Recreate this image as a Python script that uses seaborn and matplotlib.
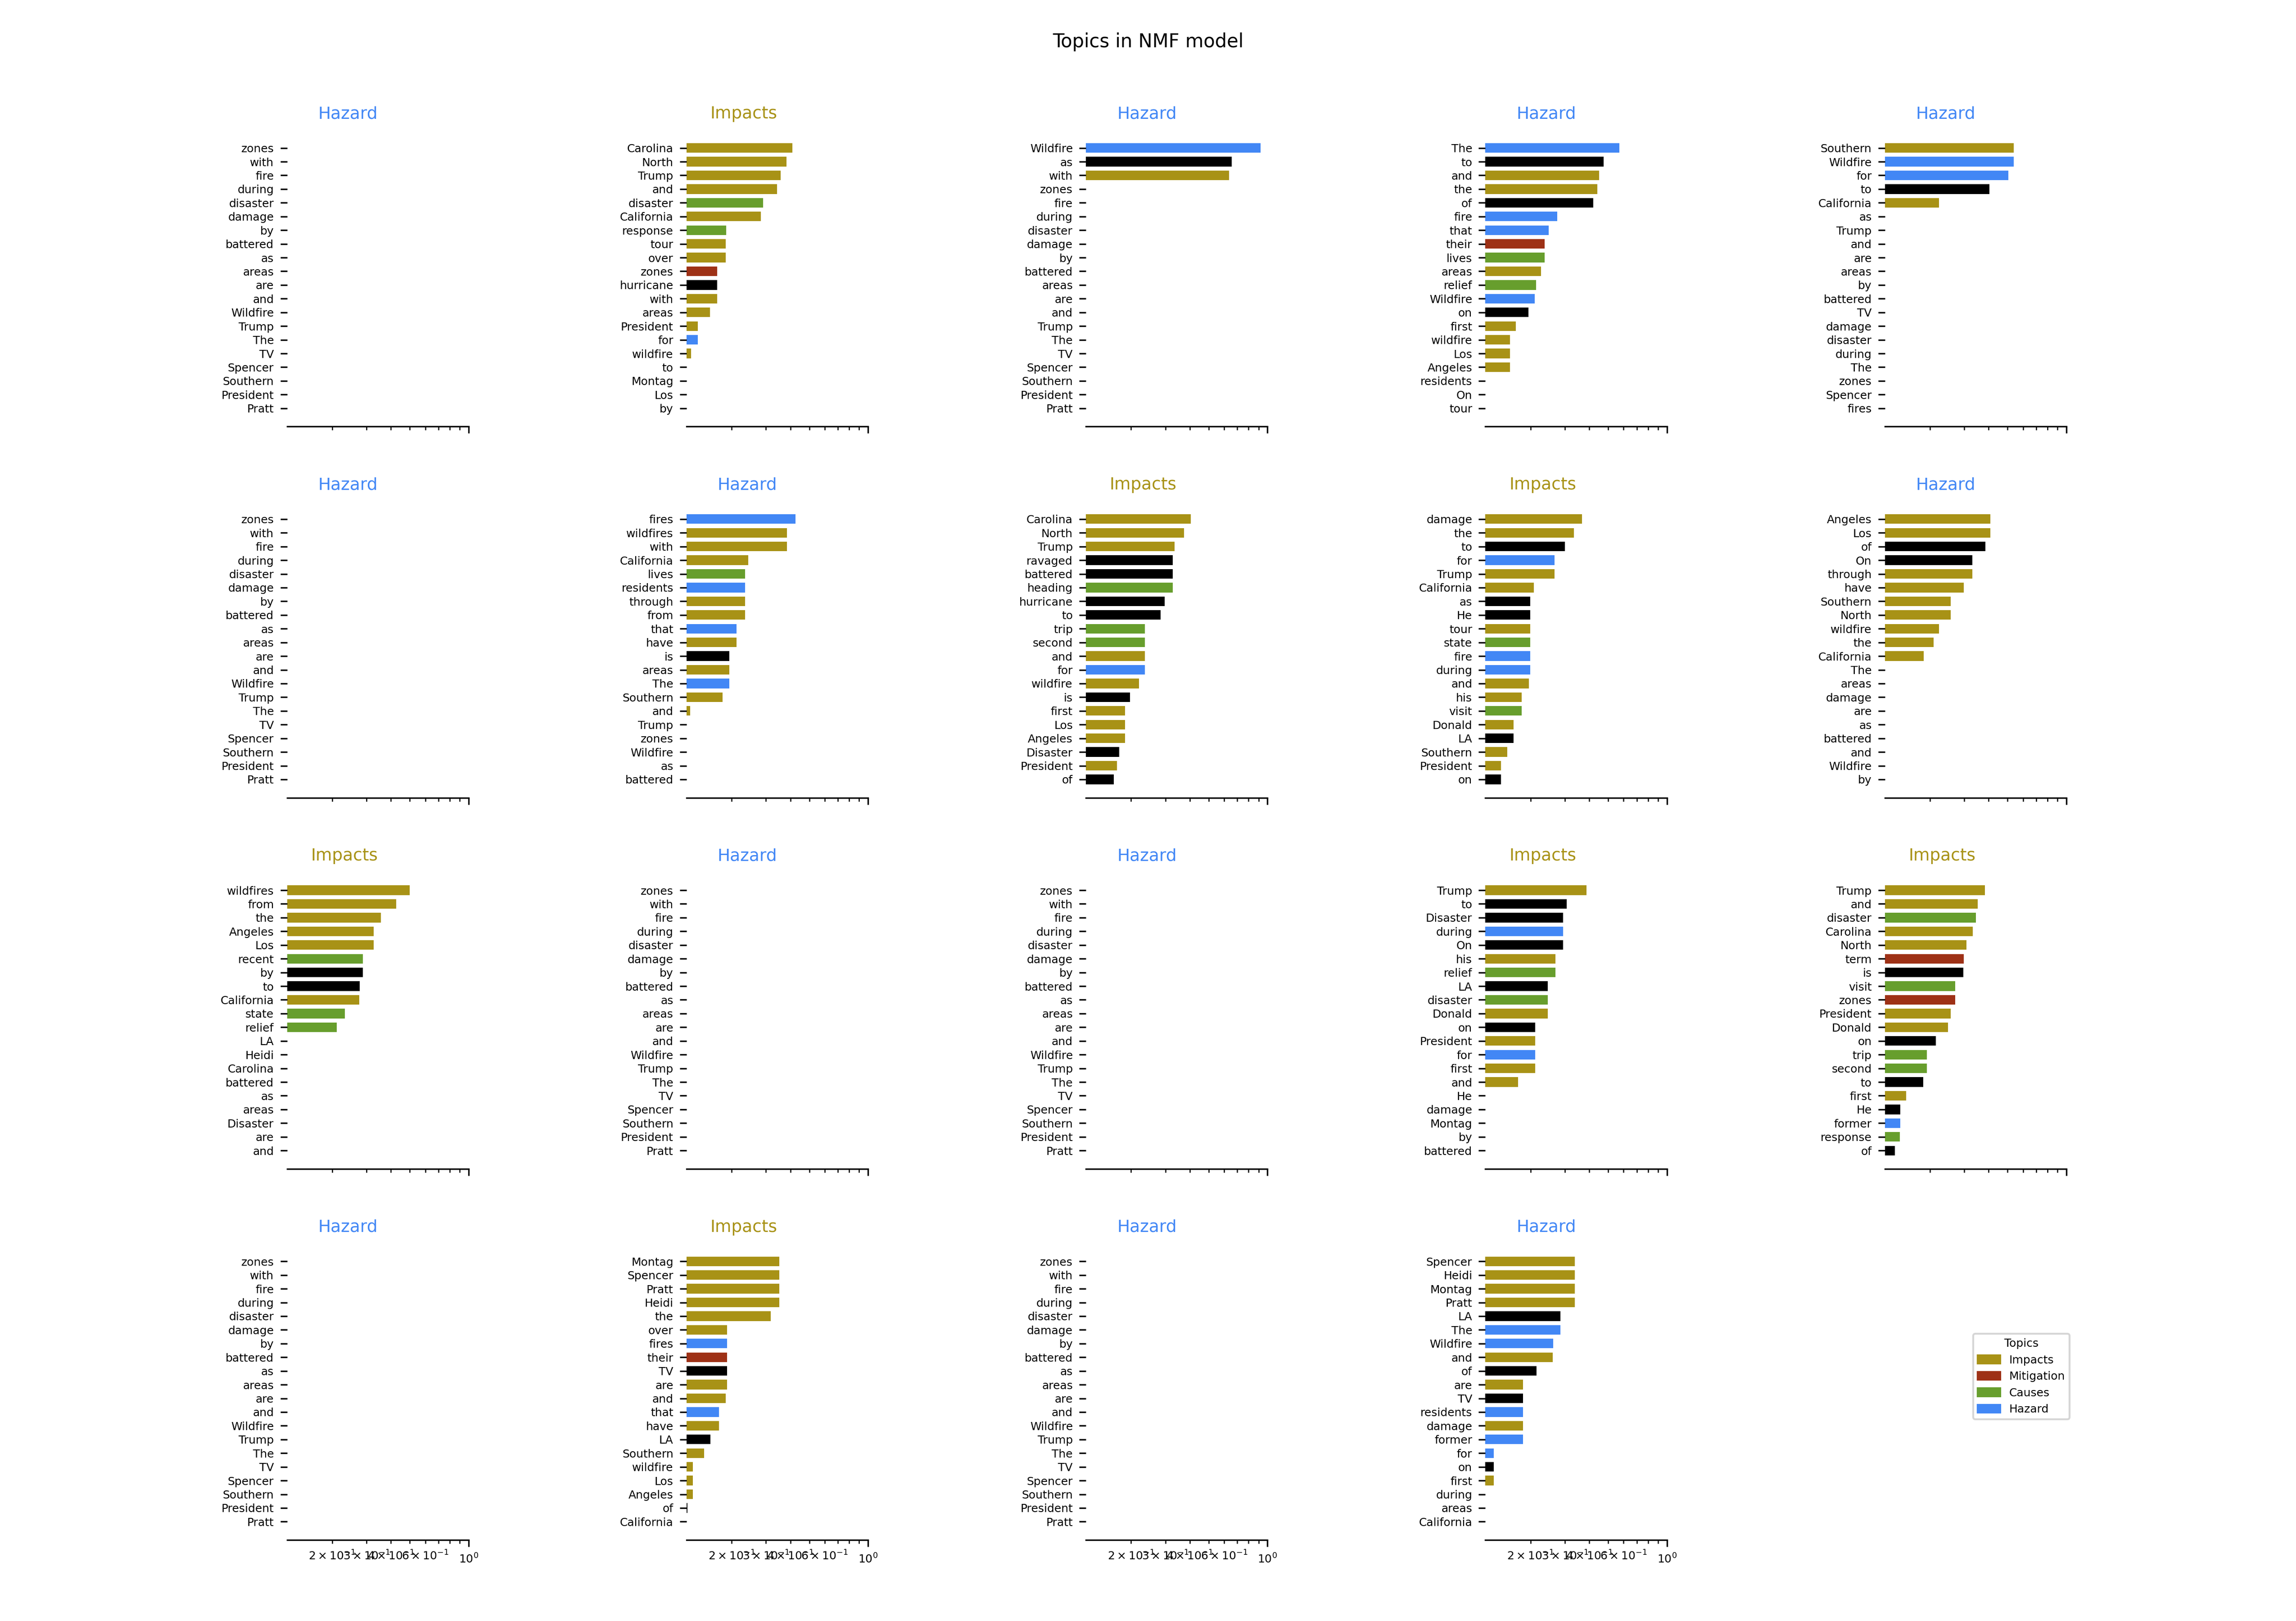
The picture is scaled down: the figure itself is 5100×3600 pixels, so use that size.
import matplotlib
matplotlib.use("Agg")
import matplotlib.pyplot as plt
from matplotlib.patches import Patch
import seaborn as sns

# ============================
#  data
# ============================

# I = Impacts, M = Mitigation, C = Causes, H = Hazard, O = no topic (black)
topic_colors = {"I": "#a89216", "M": "#9e3116", "C": "#679e2d", "H": "#4287f5", "O": "#000000"}
topic_names = {"I": "Impacts", "M": "Mitigation", "C": "Causes", "H": "Hazard"}

titles = ["Hazard", "Impacts", "Hazard", "Hazard", "Hazard",
          "Hazard", "Hazard", "Impacts", "Impacts", "Hazard",
          "Impacts", "Hazard", "Hazard", "Impacts", "Impacts",
          "Hazard", "Impacts", "Hazard", "Hazard"]

# topics with all weights at zero
empty_words = ["zones", "with", "fire", "during", "disaster", "damage", "by", "battered", "as", "areas",
               "are", "and", "Wildfire", "Trump", "The", "TV", "Spencer", "Southern", "President", "Pratt"]
empty_weights = [0, 0, 0, 0, 0, 0, 0, 0, 0, 0, 0, 0, 0, 0, 0, 0, 0, 0, 0, 0]
empty_cats = "OOOOOOOOOOOOOOOOOOOO"

t02_words = ["Carolina", "North", "Trump", "and", "disaster", "California", "response", "tour", "over", "zones",
             "hurricane", "with", "areas", "President", "for", "wildfire", "to", "Montag", "Los", "by"]
t02_weights = [0.409, 0.383, 0.356, 0.342, 0.290, 0.282, 0.188, 0.187, 0.187, 0.169,
               0.169, 0.169, 0.155, 0.134, 0.134, 0.124, 0, 0, 0, 0]
t02_cats = "IIIICICIIMOIIIHIOOOO"

t03_words = ["Wildfire", "as", "with", "zones", "fire", "during", "disaster", "damage", "by", "battered",
             "areas", "are", "and", "Trump", "The", "TV", "Spencer", "Southern", "President", "Pratt"]
t03_weights = [0.920, 0.655, 0.636, 0, 0, 0, 0, 0, 0, 0, 0, 0, 0, 0, 0, 0, 0, 0, 0, 0]
t03_cats = "HOIOOOOOOOOOOOOOOOOO"

t04_words = ["The", "to", "and", "the", "of", "fire", "that", "their", "lives", "areas",
             "relief", "Wildfire", "on", "first", "wildfire", "Los", "Angeles", "residents", "On", "tour"]
t04_weights = [0.571, 0.475, 0.450, 0.439, 0.419, 0.274, 0.248, 0.236, 0.236, 0.227,
               0.214, 0.210, 0.195, 0.168, 0.157, 0.157, 0.157, 0, 0, 0]
t04_cats = "HOIIOHHMCICHOIIIIOOO"

t05_words = ["Southern", "Wildfire", "for", "to", "California", "as", "Trump", "and", "are", "areas",
             "by", "battered", "TV", "damage", "disaster", "during", "The", "zones", "Spencer", "fires"]
t05_weights = [0.538, 0.538, 0.504, 0.404, 0.223, 0, 0, 0, 0, 0, 0, 0, 0, 0, 0, 0, 0, 0, 0, 0]
t05_cats = "IHHOIOOOOOOOOOOOOOOO"

t07_words = ["fires", "wildfires", "with", "California", "lives", "residents", "through", "from", "that", "have",
             "is", "areas", "The", "Southern", "and", "Trump", "zones", "Wildfire", "as", "battered"]
t07_weights = [0.425, 0.385, 0.385, 0.244, 0.234, 0.234, 0.234, 0.234, 0.212, 0.212,
               0.195, 0.195, 0.195, 0.180, 0.1225, 0, 0, 0, 0, 0]
t07_cats = "HIIICHIIHIOIHIIOOOOO"

t08_words = ["Carolina", "North", "Trump", "ravaged", "battered", "heading", "hurricane", "to", "trip", "second",
             "and", "for", "wildfire", "is", "first", "Los", "Angeles", "Disaster", "President", "of"]
t08_weights = [0.404, 0.374, 0.334, 0.328, 0.328, 0.328, 0.298, 0.283, 0.236, 0.236,
               0.236, 0.235, 0.220, 0.198, 0.186, 0.186, 0.186, 0.174, 0.169, 0.163]
t08_cats = "IIIOOCOOCCIHIOIIIOIO"

t09_words = ["damage", "the", "to", "for", "Trump", "California", "as", "He", "tour", "state",
             "fire", "during", "and", "his", "visit", "Donald", "LA", "Southern", "President", "on"]
t09_weights = [0.367, 0.334, 0.300, 0.266, 0.266, 0.208, 0.199, 0.199, 0.199, 0.199,
               0.199, 0.199, 0.196, 0.180, 0.180, 0.164, 0.164, 0.152, 0.1415, 0.1415]
t09_cats = "IIOHIIOOICHHIICIOIIO"

t10_words = ["Angeles", "Los", "of", "On", "through", "have", "Southern", "North", "wildfire", "the",
             "California", "The", "areas", "damage", "are", "as", "battered", "and", "Wildfire", "by"]
t10_weights = [0.407, 0.407, 0.384, 0.330, 0.330, 0.298, 0.255, 0.255, 0.223, 0.209,
               0.186, 0, 0, 0, 0, 0, 0, 0, 0, 0]
t10_cats = "IIOOIIIIIIIOOOOOOOOO"

t11_words = ["wildfires", "from", "the", "Angeles", "Los", "recent", "by", "to", "California", "state",
             "relief", "LA", "Heidi", "Carolina", "battered", "as", "areas", "Disaster", "are", "and"]
t11_weights = [0.499, 0.425, 0.356, 0.326, 0.326, 0.288, 0.288, 0.277, 0.275, 0.233,
               0.211, 0, 0, 0, 0, 0, 0, 0, 0, 0]
t11_cats = "IIIIICOOICCOOOOOOOOO"

t14_words = ["Trump", "to", "Disaster", "during", "On", "his", "relief", "LA", "disaster", "Donald",
             "on", "President", "for", "first", "and", "He", "damage", "Montag", "by", "battered"]
t14_weights = [0.388, 0.307, 0.294, 0.294, 0.294, 0.268, 0.268, 0.245, 0.245, 0.245,
               0.211, 0.211, 0.211, 0.211, 0.173, 0, 0, 0, 0, 0]
t14_cats = "IOOHOICOCIOIHIIOOOOO"

t15_words = ["Trump", "and", "disaster", "Carolina", "North", "term", "is", "visit", "zones", "President",
             "Donald", "on", "trip", "second", "to", "first", "He", "former", "response", "of"]
t15_weights = [0.382, 0.351, 0.344, 0.331, 0.307, 0.298, 0.296, 0.270, 0.270, 0.256,
               0.248, 0.214, 0.193, 0.193, 0.185, 0.151, 0.141, 0.141, 0.140, 0.132]
t15_cats = "IICIIMOCMIIOCCOIOHCO"

t17_words = ["Montag", "Spencer", "Pratt", "Heidi", "the", "over", "fires", "their", "TV", "are",
             "and", "that", "have", "LA", "Southern", "wildfire", "Los", "Angeles", "of", "California"]
t17_weights = [0.351, 0.351, 0.351, 0.351, 0.318, 0.190, 0.190, 0.190, 0.190, 0.190,
               0.187, 0.172, 0.172, 0.156, 0.1445, 0.1265, 0.1265, 0.1265, 0.119, 0]
t17_cats = "IIIIIIHMOIIHIOIIIIOO"

t19_words = ["Spencer", "Heidi", "Montag", "Pratt", "LA", "The", "Wildfire", "and", "of", "are",
             "TV", "residents", "damage", "former", "for", "on", "first", "during", "areas", "California"]
t19_weights = [0.338, 0.338, 0.338, 0.338, 0.284, 0.284, 0.261, 0.260, 0.215, 0.183,
               0.183, 0.183, 0.183, 0.183, 0.130, 0.130, 0.130, 0, 0, 0]
t19_cats = "IIIIOHHIOIOHIHHOIOOO"

topic_words = [empty_words, t02_words, t03_words, t04_words, t05_words,
               empty_words, t07_words, t08_words, t09_words, t10_words,
               t11_words, empty_words, empty_words, t14_words, t15_words,
               empty_words, t17_words, empty_words, t19_words]
topic_weights = [empty_weights, t02_weights, t03_weights, t04_weights, t05_weights,
                 empty_weights, t07_weights, t08_weights, t09_weights, t10_weights,
                 t11_weights, empty_weights, empty_weights, t14_weights, t15_weights,
                 empty_weights, t17_weights, empty_weights, t19_weights]
topic_cats = [empty_cats, t02_cats, t03_cats, t04_cats, t05_cats,
              empty_cats, t07_cats, t08_cats, t09_cats, t10_cats,
              t11_cats, empty_cats, empty_cats, t14_cats, t15_cats,
              empty_cats, t17_cats, empty_cats, t19_cats]

title_colors = {"Hazard": topic_colors["H"], "Impacts": topic_colors["I"]}

# ============================
#  figure
# ============================

fig, axes = plt.subplots(4, 5, figsize=(17, 12), sharex=True)
axes = axes.flatten()

for idx, ax in enumerate(axes[:len(titles)]):
    words = topic_words[idx]
    weights = topic_weights[idx]
    palette = {w: topic_colors[c] for w, c in zip(words, topic_cats[idx])}
    sns.barplot(x=weights, y=words, hue=words, palette=palette, orient="h",
                width=0.7, saturation=1, errorbar=None, legend=False,
                linewidth=0, ax=ax)
    ax.set_xscale("log")
    ax.set_xlim(0.1175, 1.0)
    # same padding as a plain matplotlib barh (5% margin around the bars)
    n = len(words)
    pad = 0.35 + 0.05 * (n - 1 + 0.7)
    ax.set_ylim(n - 1 + pad, -pad)
    ax.set_xlabel("")
    ax.set_ylabel("")
    ax.set_title(titles[idx], fontsize=9, color=title_colors[titles[idx]], ha="right")
    ax.tick_params(axis="both", which="both", labelsize=6)
    for side in ("top", "right", "left"):
        ax.spines[side].set_visible(False)

axes[-1].axis("off")

handles = [Patch(color=topic_colors[k], label=topic_names[k]) for k in ["I", "M", "C", "H"]]
fig.legend(handles=handles, title="Topics", loc="center", bbox_to_anchor=(0.8804, 0.1508),
           fontsize=6, title_fontsize=6)

fig.suptitle("Topics in NMF model", fontsize=10)
plt.subplots_adjust(left=0.125, right=0.9, top=0.92, bottom=0.05, wspace=1.2, hspace=0.25)
fig.savefig("out.png", dpi=300)
